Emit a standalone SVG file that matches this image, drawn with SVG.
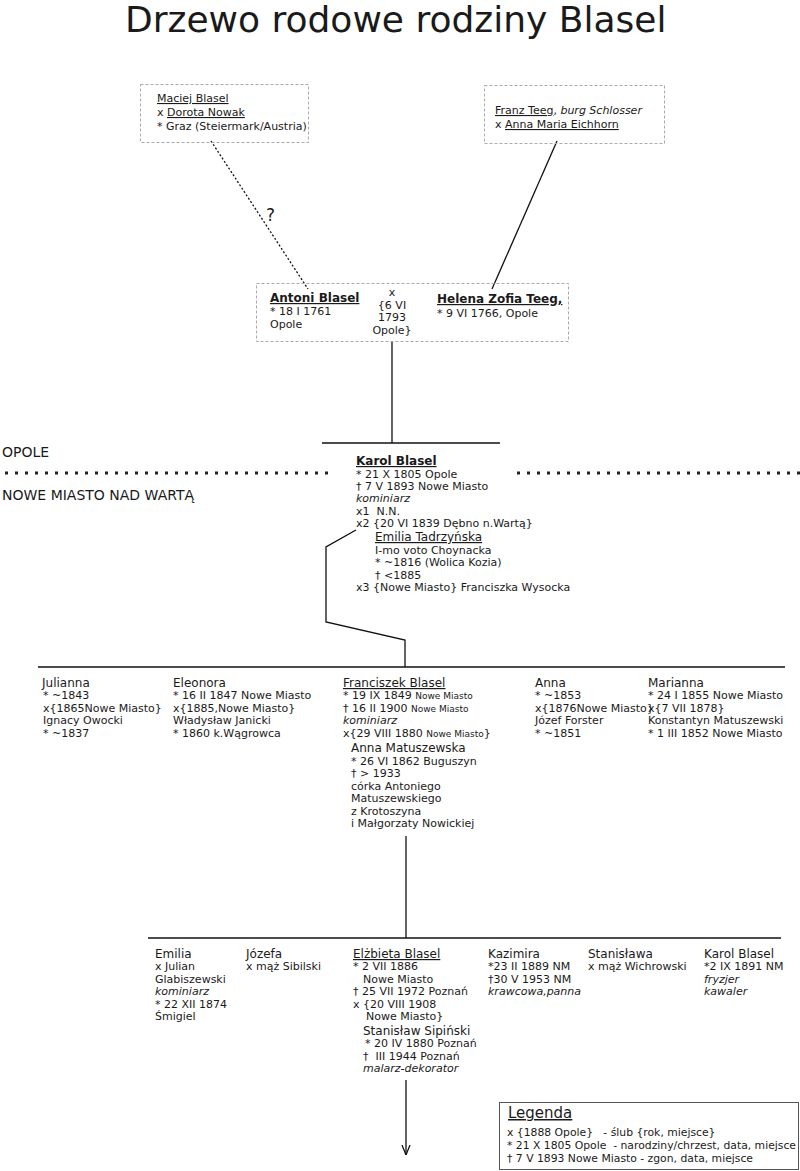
<svg xmlns="http://www.w3.org/2000/svg" width="800" height="1171" viewBox="0 0 800 1171">
<defs>
<style>
text{font-family:"DejaVu Sans",Verdana,sans-serif;font-size:11px;fill:#1a1a1a;white-space:pre}
.t{font-size:36px}
.big{font-size:12px}
.b{font-size:12px;font-weight:bold}
.u{text-decoration:underline}
.i{font-style:italic}
.s{font-size:9px}
.loc{font-size:14px}
.lg{font-size:10.8px}
.box{fill:none;stroke:#aaa;stroke-width:1;stroke-dasharray:3 2}
.ln{stroke:#111;stroke-width:1.3;fill:none}
.dots{stroke:#222;stroke-width:3;stroke-dasharray:3 7;fill:none}
</style>
<marker id="arr" viewBox="0 0 10 10" refX="10" refY="5" markerWidth="8" markerHeight="8" orient="auto">
<path d="M0,1 L10,5 L0,9" fill="none" stroke="#111" stroke-width="1.2"/>
</marker>
</defs>
<rect width="800" height="1171" fill="#fff"/>
<text class="t" x="125" y="32">Drzewo rodowe rodziny Blasel</text>

<g id="connectors">
<line x1="211" y1="141" x2="308" y2="289" class="ln" stroke-dasharray="2 2"/>
<line x1="557" y1="141" x2="492" y2="289" class="ln"/>
<line x1="392" y1="341" x2="392" y2="443" class="ln"/>
<line x1="322" y1="443" x2="500" y2="443" class="ln"/>
<polyline points="356,530 326,547 326,622 405,640 405,667" class="ln"/>
<line x1="38" y1="667" x2="785" y2="667" class="ln"/>
<line x1="406" y1="836" x2="406" y2="938" class="ln"/>
<line x1="148" y1="938" x2="781" y2="938" class="ln"/>
<line x1="406" y1="1080" x2="406" y2="1155" class="ln" marker-end="url(#arr)"/>
<text x="266" y="221" style="font-size:17px">?</text>
</g>

<g id="places">
<text class="loc" x="2" y="457">OPOLE</text>
<line x1="5" y1="473" x2="330" y2="473" class="dots"/>
<line x1="517" y1="473" x2="800" y2="473" class="dots"/>
<text class="loc" x="2" y="500">NOWE MIASTO NAD WARTĄ</text>
</g>

<g id="maciej">
<rect x="140.5" y="84.5" width="168" height="58" class="box"/>
<text x="157" y="102" class="u">Maciej Blasel</text>
<text x="157" y="116">x <tspan class="u">Dorota Nowak</tspan></text>
<text x="157" y="130">* Graz (Steiermark/Austria)</text>
</g>

<g id="franz">
<rect x="484.5" y="85.5" width="180" height="58" class="box"/>
<text x="495" y="114"><tspan class="u">Franz Teeg</tspan>, <tspan class="i">burg Schlosser</tspan></text>
<text x="495" y="128">x <tspan class="u">Anna Maria Eichhorn</tspan></text>
</g>

<g id="antoni">
<rect x="256.5" y="283.5" width="312" height="58" class="box"/>
<text x="270" y="302" class="b u">Antoni Blasel</text>
<text x="270" y="315">* 18 I 1761</text>
<text x="270" y="328">Opole</text>
<text x="392" y="296" text-anchor="middle">x</text>
<text x="392" y="309" text-anchor="middle">{6 VI</text>
<text x="392" y="321" text-anchor="middle">1793</text>
<text x="392" y="334" text-anchor="middle">Opole}</text>
<text x="437" y="303" class="b u">Helena Zofia Teeg,</text>
<text x="437" y="317">* 9 VI 1766, Opole</text>
</g>

<g id="karol">
<text x="356" y="465" class="b u">Karol Blasel</text>
<text x="356" y="478">* 21 X 1805 Opole</text>
<text x="356" y="490">† 7 V 1893 Nowe Miasto</text>
<text x="356" y="502" class="i">kominiarz</text>
<text x="356" y="515">x1  N.N.</text>
<text x="356" y="527">x2 {20 VI 1839 Dębno n.Wartą}</text>
<text x="375" y="541" class="big u">Emilia Tadrzyńska</text>
<text x="375" y="554">I-mo voto Choynacka</text>
<text x="375" y="566">* ~1816 (Wolica Kozia)</text>
<text x="375" y="579">† &lt;1885</text>
<text x="356" y="591">x3 {Nowe Miasto} Franciszka Wysocka</text>
</g>

<g id="julianna">
<text x="42" y="687" class="big">Julianna</text>
<text x="43" y="699">* ~1843</text>
<text x="43" y="712">x{1865Nowe Miasto}</text>
<text x="43" y="724">Ignacy Owocki</text>
<text x="43" y="737">* ~1837</text>
</g>

<g id="eleonora">
<text x="173" y="687" class="big">Eleonora</text>
<text x="173" y="699">* 16 II 1847 Nowe Miasto</text>
<text x="173" y="712">x{1885,Nowe Miasto}</text>
<text x="173" y="724">Władysław Janicki</text>
<text x="173" y="737">* 1860 k.Wągrowca</text>
</g>

<g id="franciszek">
<text x="343" y="687" class="big u">Franciszek Blasel</text>
<text x="343" y="699">* 19 IX 1849 <tspan class="s">Nowe Miasto</tspan></text>
<text x="343" y="712">† 16 II 1900 <tspan class="s">Nowe Miasto</tspan></text>
<text x="343" y="724" class="i">kominiarz</text>
<text x="343" y="737">x{29 VIII 1880 <tspan class="s">Nowe Miasto</tspan>}</text>
<text x="351" y="752" class="big">Anna Matuszewska</text>
<text x="351" y="765">* 26 VI 1862 Buguszyn</text>
<text x="351" y="777">† &gt; 1933</text>
<text x="351" y="790">córka Antoniego</text>
<text x="351" y="802">Matuszewskiego</text>
<text x="351" y="815">z Krotoszyna</text>
<text x="351" y="827">i Małgorzaty Nowickiej</text>
</g>

<g id="anna">
<text x="535" y="687" class="big">Anna</text>
<text x="535" y="699">* ~1853</text>
<text x="535" y="712">x{1876Nowe Miasto}</text>
<text x="535" y="724">Józef Forster</text>
<text x="535" y="737">* ~1851</text>
</g>

<g id="marianna">
<text x="648" y="687" class="big">Marianna</text>
<text x="648" y="699">* 24 I 1855 Nowe Miasto</text>
<text x="648" y="712">x{7 VII 1878}</text>
<text x="648" y="724">Konstantyn Matuszewski</text>
<text x="648" y="737">* 1 III 1852 Nowe Miasto</text>
</g>

<g id="emilia">
<text x="155" y="958" class="big">Emilia</text>
<text x="155" y="970">x Julian</text>
<text x="155" y="983">Glabiszewski</text>
<text x="155" y="995" class="i">kominiarz</text>
<text x="155" y="1008">* 22 XII 1874</text>
<text x="155" y="1020">Śmigiel</text>
</g>

<g id="jozefa">
<text x="246" y="958" class="big">Józefa</text>
<text x="246" y="970">x mąż Sibilski</text>
</g>

<g id="elzbieta">
<text x="353" y="958" class="big u">Elżbieta Blasel</text>
<text x="353" y="970">* 2 VII 1886</text>
<text x="363" y="983">Nowe Miasto</text>
<text x="353" y="995">† 25 VII 1972 Poznań</text>
<text x="353" y="1008">x {20 VIII 1908</text>
<text x="366" y="1020">Nowe Miasto}</text>
<text x="363" y="1035" class="big">Stanisław Sipiński</text>
<text x="365" y="1047">* 20 IV 1880 Poznań</text>
<text x="363" y="1060">†  III 1944 Poznań</text>
<text x="363" y="1072" class="i">malarz-dekorator</text>
</g>

<g id="kazimira">
<text x="488" y="958" class="big">Kazimira</text>
<text x="488" y="970">*23 II 1889 NM</text>
<text x="488" y="983">†30 V 1953 NM</text>
<text x="488" y="995" class="i">krawcowa,panna</text>
</g>

<g id="stanislawa">
<text x="588" y="958" class="big">Stanisława</text>
<text x="588" y="970">x mąż Wichrowski</text>
</g>

<g id="karol2">
<text x="704" y="958" class="big">Karol Blasel</text>
<text x="704" y="970">*2 IX 1891 NM</text>
<text x="704" y="983" class="i">fryzjer</text>
<text x="704" y="995" class="i">kawaler</text>
</g>

<g id="legend">
<rect x="499.5" y="1102.5" width="299" height="67" fill="none" stroke="#555" stroke-width="1"/>
<text x="508" y="1118" class="u" style="font-size:15px">Legenda</text>
<text x="507" y="1136" class="lg">x {1888 Opole}   - ślub {rok, miejsce}</text>
<text x="507" y="1149" class="lg">* 21 X 1805 Opole  - narodziny/chrzest, data, miejsce</text>
<text x="507" y="1162" class="lg">† 7 V 1893 Nowe Miasto - zgon, data, miejsce</text>
</g>
</svg>
